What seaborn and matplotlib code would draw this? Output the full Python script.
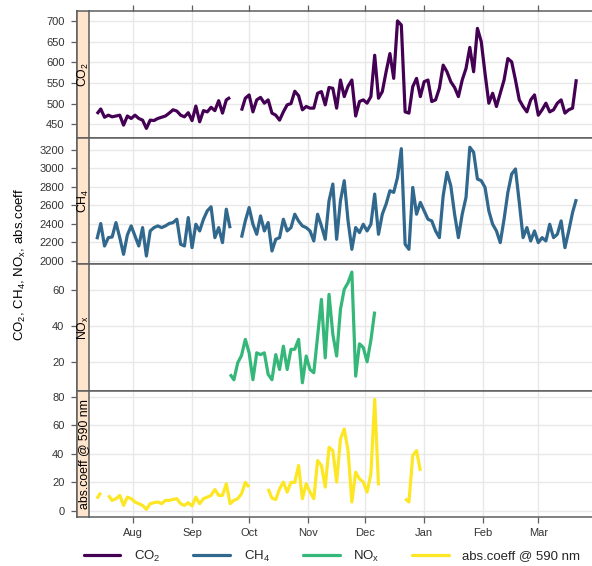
import numpy as np
import pandas as pd
import matplotlib
matplotlib.use("Agg")
import matplotlib.pyplot as plt
import seaborn as sns
from matplotlib.lines import Line2D

# ---- data: two-day sampled series starting at start_date (nan = no data) ----
start_date = "2019-07-13"
step = "2D"
nan = np.nan

co2 = [475, 487, 467, 472, 468, 470, 472, 448, 470, 464,
       472, 464, 460, 440, 460, 459, 464, 467, 470, 477,
       485, 482, 472, 468, 478, 459, 494, 456, 483, 480,
       491, 483, 507, 477, 509, 515, nan, nan, 483, 513,
       521, 480, 509, 515, 501, 509, 477, 472, 460, 480,
       497, 500, 530, 519, 485, 493, 489, 489, 525, 529,
       497, 539, 537, 489, 557, 517, 542, 557, 470, 505,
       509, 501, 517, 617, 513, 529, 577, 621, 561, 700,
       690, 480, 477, 541, 561, 517, 553, 557, 505, 509,
       537, 593, 577, 553, 539, 517, 557, 585, 636, 577,
       682, 650, 573, 501, 525, 493, 525, 557, 609, 601,
       557, 509, 493, 480, 509, 521, 472, 485, 501, 480,
       485, 501, 509, 477, 485, 489, 559]

ch4 = [2234, 2404, 2162, 2252, 2259, 2414, 2252, 2072, 2281, 2378,
       2270, 2162, 2360, 2054, 2324, 2360, 2378, 2360, 2378, 2404,
       2414, 2450, 2180, 2162, 2468, 2144, 2396, 2324, 2450, 2540,
       2584, 2252, 2360, 2198, 2558, 2353, nan, nan, 2252, 2432,
       2576, 2396, 2288, 2486, 2324, 2414, 2108, 2234, 2252, 2450,
       2324, 2360, 2504, 2430, 2378, 2360, 2324, 2216, 2504, 2378,
       2234, 2649, 2829, 2234, 2649, 2865, 2432, 2126, 2360, 2306,
       2396, 2324, 2396, 2721, 2288, 2504, 2613, 2757, 2739, 2901,
       3210, 2180, 2126, 2793, 2504, 2631, 2540, 2450, 2432, 2324,
       2252, 2703, 2955, 2811, 2504, 2252, 2504, 2685, 3225, 3171,
       2883, 2865, 2793, 2540, 2396, 2324, 2198, 2450, 2739, 2937,
       2991, 2631, 2252, 2360, 2216, 2324, 2198, 2252, 2216, 2396,
       2252, 2288, 2432, 2144, 2324, 2522, 2667]

nox = [nan] * 35 + [
       13, 10, 19.4, 23.5, 32.5, 25, 10, 25, 24, 25,
       13, 10, 24, 15.7, 28.7, 15.7, 26.9, 27, 32.5, 8.3,
       23.2, 15.7, 13.9, 34.3, 54.8, 22.2, 57.6, 35.3, 23.2, 49.2,
       60.4, 64.1, 70, 12, 30, 28, 20, 32, 48] + [nan] * 53

abs_coeff = [8.6, 12.8, nan, 10.9, 7.4, 8.6, 10.9, 3.9, 9.7, 8.6,
             6.3, 5.1, 3.9, 1.2, 5.1, 5.8, 6.3, 5.1, 7.4, 7.4,
             8.1, 8.6, 5.1, 3.9, 5.8, 3.5, 9.7, 5.1, 8.6, 9.7,
             10.9, 15, 10.9, 10.9, 19, 5.1, 7.4, 8.6, 12, 20,
             16.7, nan, nan, nan, nan, 15.5, 9, 8, 15.5, 20.2,
             13.2, 20, 20, 31.8, 8.6, 19, 13.2, 8.6, 35.2, 31.8,
             16.7, 44.5, 42.2, 20.2, 50.3, 57.3, 42.2, 6.3, 27.1, 22.5,
             20.2, 13.2, 26, 78, 17.9, nan, nan, nan, nan, nan,
             nan, 8.6, 6.3, 38.7, 42.2, 28] + [nan] * 41

series = [co2, ch4, nox, abs_coeff]
panel_labels = ["CO$_2$", "CH$_4$", "NO$_x$", "abs.coeff @ 590 nm"]
legend_labels = ["CO$_2$", "CH$_4$", "NO$_x$", "abs.coeff @ 590 nm"]
colors = ["#440154", "#31688E", "#35B779", "#FDE725"]

y_ticks = [[450, 500, 550, 600, 650, 700],
           [2000, 2200, 2400, 2600, 2800, 3000, 3200],
           [20, 40, 60],
           [0, 20, 40, 60, 80]]
y_limits = [(418, 724), (1968, 3330), (4, 74.5), (-4.2, 84.2)]

month_ticks = ["2019-08-01", "2019-09-01", "2019-10-01", "2019-11-01",
               "2019-12-01", "2020-01-01", "2020-02-01", "2020-03-01"]
month_labels = ["Aug", "Sep", "Oct", "Nov", "Dec", "Jan", "Feb", "Mar"]
x_limits = ("2019-07-08 20:00", "2020-03-29 18:00")

y_title = "CO$_2$, CH$_4$, NO$_x$, abs.coeff"

# ---- style ----
sns.set_style("white")
plt.rcParams["font.family"] = ["Liberation Sans", "DejaVu Sans"]
plt.rcParams["mathtext.fontset"] = "custom"
plt.rcParams["mathtext.rm"] = "Liberation Sans"
plt.rcParams["mathtext.it"] = "Liberation Sans:italic"
plt.rcParams["mathtext.bf"] = "Liberation Sans:bold"
plt.rcParams["mathtext.default"] = "regular"

frame_col = "#5e5e5e"
text_col = "#333333"
grid_col = "#e8e8e8"
strip_col = "#FFE5CC"

W, H = 592, 566
fig = plt.figure(figsize=(W / 100, H / 100), dpi=100)

# panel area runs slightly past the right edge of the canvas
left_px, right_px, strip_px = 89, 593, 12
top_px, bottom_px = 11, 517
panel_h = (bottom_px - top_px) / 4

dates = pd.date_range(start_date, periods=len(co2), freq=step)
xl = (pd.Timestamp(x_limits[0]), pd.Timestamp(x_limits[1]))
tick_dates = pd.to_datetime(month_ticks)

axes = []
for k in range(4):
    y0 = 1 - (top_px + (k + 1) * panel_h) / H
    ax = fig.add_axes([left_px / W, y0, (right_px - left_px) / W, panel_h / H],
                      sharex=axes[0] if axes else None)
    axes.append(ax)

    vals = pd.Series(series[k], dtype=float)
    df = pd.DataFrame({"date": dates, "value": vals,
                       "seg": vals.isna().cumsum()}).dropna()
    sns.lineplot(data=df, x="date", y="value", units="seg", estimator=None,
                 color=colors[k], lw=2.3, ax=ax, solid_capstyle="butt",
                 solid_joinstyle="round")

    ax.set_xlabel("")
    ax.set_ylabel("")
    ax.set_ylim(*y_limits[k])
    ax.set_yticks(y_ticks[k])
    ax.set_xlim(*xl)
    ax.set_xticks(tick_dates)
    ax.grid(True, color=grid_col, lw=1.0)
    ax.set_axisbelow(True)

    for side in ["top", "bottom", "right", "left"]:
        ax.spines[side].set_color(frame_col)
        ax.spines[side].set_linewidth(1.1)
    ax.spines["left"].set_position(("outward", strip_px * 0.72))

    ax.tick_params(axis="y", direction="out", length=4.5, width=0.9,
                   color=frame_col, labelcolor=text_col, labelsize=8, pad=4.5,
                   left=True)
    if k == 0:
        ax.tick_params(axis="x", direction="out", length=4.5, width=0.9,
                       color=frame_col, top=True, bottom=False,
                       labeltop=False, labelbottom=False)
    elif k == 3:
        ax.tick_params(axis="x", direction="out", length=4.5, width=0.9,
                       color=frame_col, top=False, bottom=True,
                       labelbottom=True, labelcolor=text_col, labelsize=8,
                       pad=3.5)
        ax.set_xticklabels(month_labels)
    else:
        ax.tick_params(axis="x", top=False, bottom=False,
                       labelbottom=False, labeltop=False)

    # strip with the panel name
    sax = fig.add_axes([(left_px - strip_px) / W, y0, strip_px / W, panel_h / H])
    sax.set_facecolor(strip_col)
    sax.set_xticks([])
    sax.set_yticks([])
    for side in ["top", "bottom", "right", "left"]:
        sax.spines[side].set_color(frame_col)
        sax.spines[side].set_linewidth(1.1)
    sax.text(0.55, 0.5, panel_labels[k], rotation=90, ha="center",
             va="center", fontsize=8.8, color="black",
             transform=sax.transAxes)

fig.text(20 / W, 1 - 264 / H, y_title, rotation=90, ha="center",
         va="center", fontsize=9.5, color="black")

handles = [Line2D([], [], color=c, lw=2.3) for c in colors]
fig.legend(handles, legend_labels, loc="center", ncol=4,
           bbox_to_anchor=(332 / W, 1 - 556 / H), frameon=False,
           fontsize=9.5, handlelength=2.8, handletextpad=1.0,
           columnspacing=2.5, borderaxespad=0)

fig.savefig("out.png", dpi=100)
